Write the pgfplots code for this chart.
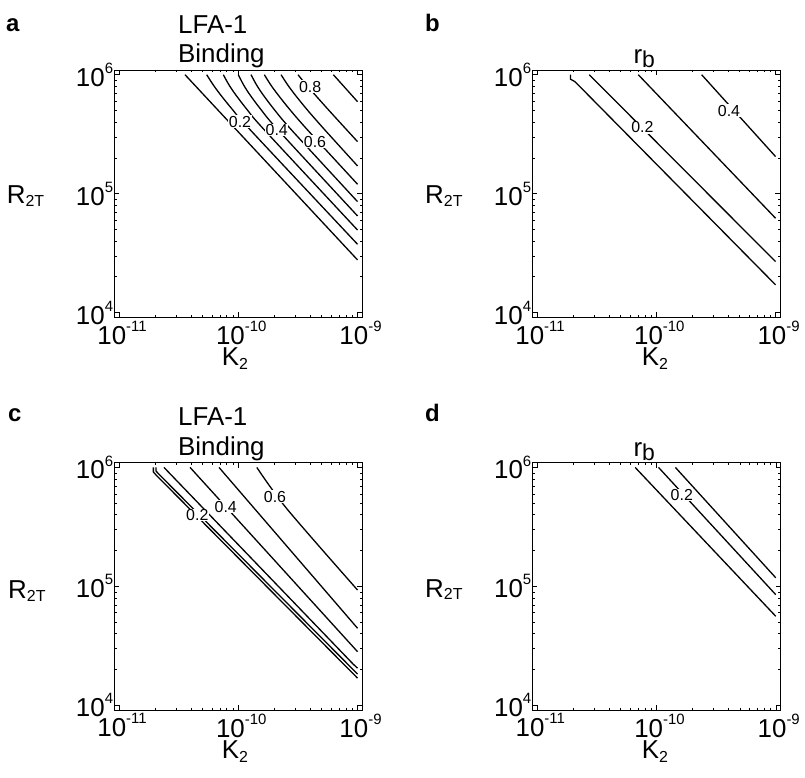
\documentclass[border=0pt]{standalone}
\usepackage{fontspec}
\setmainfont{Liberation Sans}
\usepackage{pgfplots}
\pgfplotsset{compat=1.18}

\newcommand\pw[1]{10\raisebox{0.5em}{\fontsize{15}{15}\selectfont #1}}
\newcommand\bigf{\fontsize{26}{28}\selectfont}
\newcommand\subf{\fontsize{16}{16}\selectfont}

\pgfplotsset{
  /pgfplots/mypanel/.style={
    scale only axis, width=248bp, height=247.3bp,
    anchor=south west,
    xmin=9.12e-12, xmax=1.096e-9, ymin=9120, ymax=1.096e6,
    xtick={1e-11,1e-10,1e-9}, xticklabels={\pw{-11},\pw{-10},\pw{-9}},
    ytick={1e4,1e5,1e6}, yticklabels={\pw{4},\pw{5},\pw{6}},
    minor xtick={2e-11,3e-11,4e-11,5e-11,6e-11,7e-11,8e-11,9e-11,2e-10,3e-10,4e-10,5e-10,6e-10,7e-10,8e-10,9e-10},
    minor ytick={2e4,3e4,4e4,5e4,6e4,7e4,8e4,9e4,2e5,3e5,4e5,5e5,6e5,7e5,8e5,9e5},
    tick align=inside,
    major tick length=5bp, minor tick length=2.5bp,
    every tick/.append style={black, line width=0.5bp},
    axis line style={line width=0.9bp},
    tick label style={font=\bigf, inner sep=0pt},
    xticklabel style={yshift=-3.5bp, xshift=3bp},
    yticklabel style={xshift=-1bp},
  },
  /pgfplots/cl/.style={black, line width=1.3bp, no marks},
  /pgfplots/cs/.style={black, line width=1.3bp, no marks, smooth, tension=0.5},
}
\tikzset{lab/.style={fill=white, inner sep=0.6bp, font=\fontsize{16}{16}\selectfont}}

\begin{document}
\begin{tikzpicture}[x=1bp,y=1bp]
\path[use as bounding box] (0,0) rectangle (805,778);

% ---------------- panel a ----------------
\begin{loglogaxis}[mypanel, at={(114.3bp,460.7bp)}]
\addplot[cl] coordinates {(3.573e-11,1e6) (1e-9,2.77e4)};
\addplot[cs] coordinates {(5.43e-11,1e6) (6.17e-11,8.20e5) (7.11e-11,6.76e5) (9.00e-11,5.05e5) (1.262e-10,3.43e5) (1e-9,3.75e4)};
\addplot[cs] coordinates {(7.49e-11,1e6) (8.36e-11,8.20e5) (9.53e-11,6.76e5) (1.192e-10,5.05e5) (1.656e-10,3.43e5) (1e-9,4.94e4)};
\addplot[cs] coordinates {(1.0e-10,1e6) (1.108e-10,8.20e5) (1.254e-10,6.76e5) (1.559e-10,5.05e5) (2.155e-10,3.43e5) (1e-9,6.49e4)};
\addplot[cs] coordinates {(1.279e-10,1e6) (1.423e-10,8.20e5) (1.617e-10,6.76e5) (2.016e-10,5.05e5) (2.795e-10,3.43e5) (1e-9,8.56e4)};
\addplot[cs] coordinates {(1.653e-10,1e6) (1.873e-10,8.20e5) (2.157e-10,6.76e5) (2.723e-10,5.05e5) (3.812e-10,3.43e5) (1e-9,1.199e5)};
\addplot[cs] coordinates {(2.283e-10,1e6) (2.597e-10,8.20e5) (2.998e-10,6.76e5) (3.797e-10,5.05e5) (5.324e-10,3.43e5) (1e-9,1.709e5)};
\addplot[cs] coordinates {(3.17e-10,1e6) (3.726e-10,8.20e5) (5.72e-10,5.05e5) (1e-9,2.735e5)};
\addplot[cl] coordinates {(6.27e-10,1e6) (1e-9,5.93e5)};
\node[lab] at (axis cs:1.034e-10,4.03e5) {0.2};
\node[lab] at (axis cs:2.10e-10,3.43e5) {0.4};
\node[lab] at (axis cs:4.40e-10,2.735e5) {0.6};
\node[lab] at (axis cs:4.0e-10,7.94e5) {0.8};
\end{loglogaxis}

% ---------------- panel b ----------------
\begin{loglogaxis}[mypanel, at={(532.3bp,460.7bp)}]
\addplot[cl] coordinates {(1.91e-11,1e6) (1.91e-11,9.16e5) (2.08e-11,8.74e5) (1e-9,1.71e4)};
\addplot[cl] coordinates {(2.74e-11,1e6) (1e-9,2.68e4)};
\addplot[cl] coordinates {(7.06e-11,1e6) (1e-9,6.21e4)};
\addplot[cl] coordinates {(2.40e-10,1e6) (1e-9,2.05e5)};
\node[lab] at (axis cs:7.64e-11,3.61e5) {0.2};
\node[lab] at (axis cs:4.07e-10,4.99e5) {0.4};
\end{loglogaxis}

% ---------------- panel c ----------------
\begin{loglogaxis}[mypanel, at={(114.3bp,68bp)}]
\addplot[cl] coordinates {(1.94e-11,1e6) (1.94e-11,9.16e5) (2.04e-11,8.65e5) (1e-9,1.69e4)};
\addplot[cl] coordinates {(2.04e-11,1e6) (2.04e-11,9.33e5) (2.15e-11,8.81e5) (1e-9,1.83e4)};
\addplot[cl] coordinates {(2.38e-11,1e6) (9.18e-10,2.22e4) (1e-9,2.05e4)};
\addplot[cl] coordinates {(3.94e-11,1e6) (1e-9,2.82e4)};
\addplot[cl] coordinates {(6.89e-11,1e6) (1e-9,4.44e4)};
\addplot[cs] coordinates {(1.43e-10,1e6) (2.573e-10,4.45e5) (1e-9,9.31e4)};
\node[lab] at (axis cs:4.53e-11,3.98e5) {0.2};
\node[lab] at (axis cs:7.85e-11,4.68e5) {0.4};
\node[lab] at (axis cs:2.03e-10,5.68e5) {0.6};
\end{loglogaxis}

% ---------------- panel d ----------------
\begin{loglogaxis}[mypanel, at={(532.5bp,68bp)}]
\addplot[cl] coordinates {(6.62e-11,1e6) (1e-9,5.6e4)};
\addplot[cl] coordinates {(1.04e-10,1e6) (1e-9,8.51e4)};
\addplot[cl] coordinates {(1.44e-10,1e6) (1e-9,1.18e5)};
\node[lab] at (axis cs:1.63e-10,5.85e5) {0.2};
\end{loglogaxis}

% ---------------- texts ----------------
\begin{scope}[every node/.style={inner sep=0pt, anchor=base west}]
\node[font=\fontsize{24}{24}\selectfont\bfseries] at (6,746.3) {a};
\node[font=\fontsize{24}{24}\selectfont\bfseries] at (425,746.3) {b};
\node[font=\fontsize{24}{24}\selectfont\bfseries] at (8,356.3) {c};
\node[font=\fontsize{24}{24}\selectfont\bfseries] at (425,356.3) {d};

\node[font=\bigf] at (178,744.7) {LFA-1};
\node[font=\bigf] at (178,715.3) {Binding};
\node[font=\bigf] at (178,352) {LFA-1};
\node[font=\bigf] at (178,322.6) {Binding};
\node[font=\bigf] at (633.3,714.7) {r\raisebox{-4bp}{\fontsize{23}{23}\selectfont b}};
\node[font=\bigf] at (633.3,321.4) {r\raisebox{-4bp}{\fontsize{23}{23}\selectfont b}};

\node[font=\bigf] at (6.7,574) {R\raisebox{-2.7bp}{\subf 2T}};
\node[font=\bigf] at (425,574) {R\raisebox{-2.7bp}{\subf 2T}};
\node[font=\bigf] at (8,179) {R\raisebox{-2.7bp}{\subf 2T}};
\node[font=\bigf] at (425,180.7) {R\raisebox{-2.7bp}{\subf 2T}};

\node[font=\bigf] at (221.7,412) {K\raisebox{-3.3bp}{\subf 2}};
\node[font=\bigf] at (641.7,412) {K\raisebox{-3.3bp}{\subf 2}};
\node[font=\bigf] at (221.7,19) {K\raisebox{-3.3bp}{\subf 2}};
\node[font=\bigf] at (641.7,19) {K\raisebox{-3.3bp}{\subf 2}};
\end{scope}
\end{tikzpicture}
\end{document}
